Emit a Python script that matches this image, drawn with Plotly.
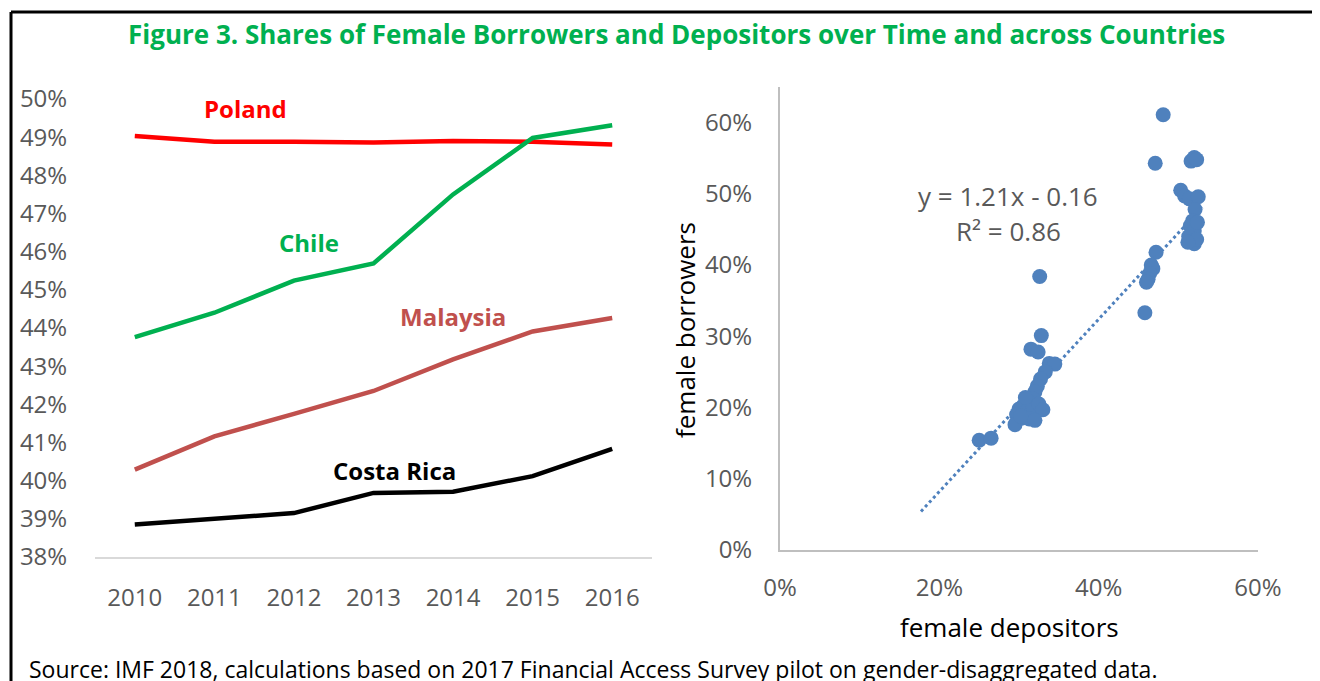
import plotly.graph_objects as go

# ---- left panel: shares of female borrowers by country ----
YEARS = ["2010", "2011", "2012", "2013", "2014", "2015", "2016"]
POLAND = [0.4903, 0.4888, 0.4888, 0.4886, 0.4890, 0.4888, 0.4881]
CHILE = [0.4376, 0.4440, 0.4524, 0.4569, 0.4750, 0.4898, 0.4931]
MALAYSIA = [0.4029, 0.4116, 0.4175, 0.4235, 0.4318, 0.4391, 0.4426]
COSTA_RICA = [0.3885, 0.3901, 0.3915, 0.3968, 0.3971, 0.4012, 0.4083]

# ---- right panel: depositors vs borrowers ----
DEPOSITORS = [
    0.481, 0.471, 0.516, 0.520, 0.523, 0.503, 0.508, 0.514, 0.525, 0.521,
    0.518, 0.515, 0.520, 0.524, 0.513, 0.517, 0.520, 0.523, 0.512,
    0.472, 0.466, 0.468, 0.464, 0.462, 0.460, 0.458,
    0.326, 0.328, 0.315, 0.324, 0.338, 0.345, 0.333, 0.327, 0.323, 0.320,
    0.318, 0.312, 0.305, 0.300, 0.310, 0.318, 0.325, 0.330, 0.297, 0.303,
    0.313, 0.320, 0.295, 0.250, 0.265, 0.308, 0.302,
]
BORROWERS = [
    0.611, 0.543, 0.546, 0.551, 0.548, 0.505, 0.497, 0.493, 0.496, 0.478,
    0.462, 0.455, 0.448, 0.460, 0.440, 0.433, 0.430, 0.436, 0.432,
    0.418, 0.400, 0.395, 0.388, 0.380, 0.376, 0.333,
    0.384, 0.301, 0.282, 0.278, 0.262, 0.261, 0.250, 0.240, 0.230, 0.222,
    0.212, 0.208, 0.202, 0.198, 0.195, 0.200, 0.205, 0.197, 0.190, 0.185,
    0.184, 0.182, 0.176, 0.154, 0.157, 0.214, 0.188,
]
TREND_SLOPE = 1.21
TREND_INTERCEPT = -0.16
TREND_X = [0.177, 0.53]

W, H = 1320, 681
OFF = 8  # page body margin in the browser
FONT = "Open Sans"
TICK_GREY = "#595959"
AXIS_GREY = "#BFBFBF"
BLUE = "#4F81BD"


def px(x):
    return (x - OFF) / W


def py(y):
    return 1 - (y - OFF) / H


fig = go.Figure()

lines = [
    ("Poland", POLAND, "#FF0000"),
    ("Chile", CHILE, "#00B050"),
    ("Malaysia", MALAYSIA, "#C0504D"),
    ("Costa Rica", COSTA_RICA, "#000000"),
]
for name, vals, col in lines:
    fig.add_trace(go.Scatter(
        x=YEARS, y=vals, mode="lines", name=name,
        line=dict(color=col, width=4.5),
        xaxis="x", yaxis="y",
    ))

fig.add_trace(go.Scatter(
    x=TREND_X,
    y=[TREND_SLOPE * v + TREND_INTERCEPT for v in TREND_X],
    mode="lines",
    line=dict(color=BLUE, width=3, dash="dot"),
    xaxis="x2", yaxis="y2",
))
fig.add_trace(go.Scatter(
    x=DEPOSITORS, y=BORROWERS, mode="markers",
    marker=dict(color=BLUE, size=15, line=dict(width=0)),
    xaxis="x2", yaxis="y2",
))

tickfont = dict(family=FONT, size=24, color=TICK_GREY)
hidden_tick = dict(ticks="outside", tickcolor="rgba(0,0,0,0)")

fig.update_layout(
    width=W, height=H,
    showlegend=False,
    paper_bgcolor="white",
    plot_bgcolor="white",
    margin=dict(l=0, r=0, t=0, b=0, autoexpand=False),
    font=dict(family=FONT),
    xaxis=dict(
        domain=[px(95), px(652)], type="category", range=[-0.5, 6.5],
        showgrid=False, showline=True, linecolor="#D9D9D9", linewidth=2,
        tickfont=tickfont, ticklen=18, **hidden_tick,
    ),
    yaxis=dict(
        domain=[py(557), py(99)], range=[0.38, 0.50],
        dtick=0.01, tickformat=".0%", showgrid=False, zeroline=False,
        tickfont=tickfont, ticklen=22, **hidden_tick,
    ),
    xaxis2=dict(
        domain=[px(780), px(1258)], range=[0, 0.6], dtick=0.2,
        tickformat=".0%", showgrid=False, zeroline=False,
        showline=True, linecolor=AXIS_GREY, linewidth=2,
        tickfont=tickfont, ticklen=15, anchor="y2", **hidden_tick,
    ),
    yaxis2=dict(
        domain=[py(550), py(87)], range=[0, 0.65], dtick=0.1,
        tickformat=".0%", showgrid=False, zeroline=False,
        showline=True, linecolor=AXIS_GREY, linewidth=2,
        tickfont=tickfont, ticklen=21, anchor="x2", **hidden_tick,
    ),
)

ann = [
    dict(x=px(676), y=py(34),
         text="<b>Figure 3. Shares of Female Borrowers and Depositors over Time and across Countries</b>",
         font=dict(size=26, color="#00B050")),
    dict(x=px(245), y=py(108), text="<b>Poland</b>", font=dict(size=24, color="#FF0000")),
    dict(x=px(309), y=py(242), text="<b>Chile</b>", font=dict(size=24, color="#00B050")),
    dict(x=px(453), y=py(316), text="<b>Malaysia</b>", font=dict(size=24, color="#C0504D")),
    dict(x=px(395), y=py(470), text="<b>Costa Rica</b>", font=dict(size=24, color="#000000")),
    dict(x=px(1008), y=py(196), text="y = 1.21x - 0.16", font=dict(size=26, color=TICK_GREY)),
    dict(x=px(1008), y=py(231), text="R² = 0.86", font=dict(size=26, color=TICK_GREY)),
    dict(x=px(1010), y=py(627), text="female depositors", font=dict(size=26, color="#000000")),
    dict(x=px(685), y=py(330), text="female borrowers", textangle=-90,
         font=dict(size=26, color="#000000")),
    dict(x=px(27), y=py(669), xanchor="left",
         text="Source: IMF 2018, calculations based on 2017 Financial Access Survey pilot on gender-disaggregated data.",
         font=dict(size=23, color="#000000")),
]
for a in ann:
    a.setdefault("xanchor", "center")
    fig.add_annotation(xref="paper", yref="paper", yanchor="middle",
                       showarrow=False, font_family=FONT, **a)

# outer frame (top and left edges visible)
fig.add_shape(type="line", xref="paper", yref="paper",
              x0=px(11), x1=1, y0=py(12), y1=py(12),
              line=dict(color="black", width=3))
fig.add_shape(type="line", xref="paper", yref="paper",
              x0=px(11), x1=px(11), y0=py(12), y1=0,
              line=dict(color="black", width=3))

fig.write_html("out.html")
